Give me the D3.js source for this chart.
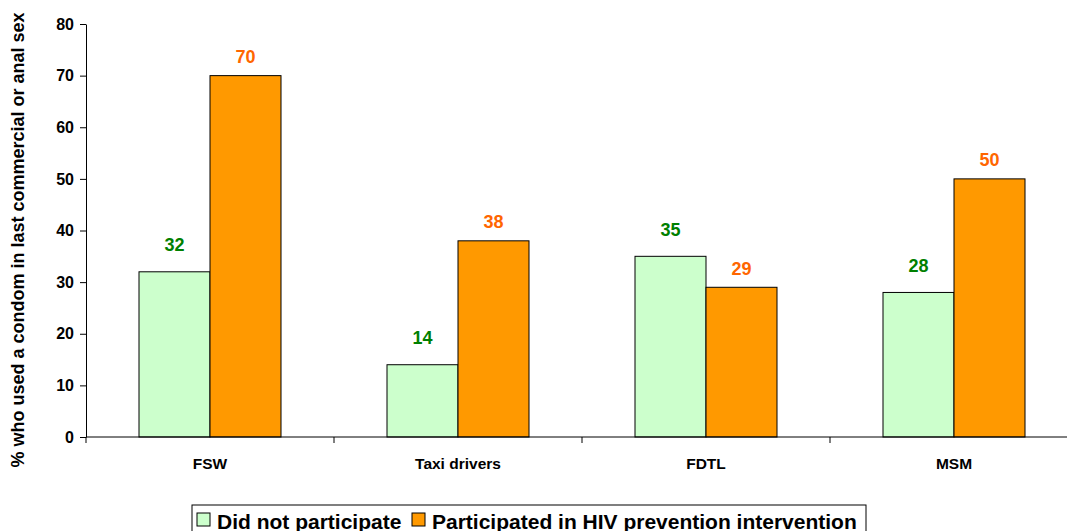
<!DOCTYPE html>
<html>
<head>
<meta charset="utf-8">
<script src="https://cdn.jsdelivr.net/npm/d3@7"></script>
<style>
  body { margin: 0; background: #fff; }
  svg text { font-family: "Liberation Sans", Arial, sans-serif; font-weight: bold; }
  .axis path, .axis line { stroke: #000; }
</style>
</head>
<body>
<div id="chart"></div>
<script>
// datos
var categories = ["FSW", "Taxi drivers", "FDTL", "MSM"];
var notParticipated = [32, 14, 35, 28];
var participated = [70, 38, 29, 50];
var seriesNames = ["Did not participate", "Participated in HIV prevention intervention"];
var yTicks = [0, 10, 20, 30, 40, 50, 60, 70, 80];

var W = 1067, H = 531;
var margin = {top: 24, right: -11, bottom: 94, left: 86};
var width = W - margin.left - margin.right,
    height = H - margin.top - margin.bottom;

var fills = ["#CCFFCC", "#FF9900"];
var labelColors = ["#008000", "#FF6600"];
var labelOffsets = [27, 19];

var svg = d3.select("#chart").append("svg")
    .attr("width", W)
    .attr("height", H);

var g = svg.append("g")
    .attr("transform", "translate(" + margin.left + "," + margin.top + ")");

var x0 = d3.scaleBand().domain(categories).range([0, width]).paddingInner(0).paddingOuter(0);
var x1 = d3.scaleBand().domain([0, 1]).range([53, x0.bandwidth() - 53]);
var y = d3.scaleLinear().domain([0, 80]).range([height, 0]);

var rows = categories.map(function(c, i) {
  return {cat: c, vals: [notParticipated[i], participated[i]]};
});

// barras
var groups = g.selectAll(".grp")
    .data(rows)
  .enter().append("g")
    .attr("class", "grp")
    .attr("transform", function(d) { return "translate(" + x0(d.cat) + ",0)"; });

groups.selectAll("rect")
    .data(function(d) { return d.vals.map(function(v, s) { return {v: v, s: s}; }); })
  .enter().append("rect")
    .attr("x", function(d) { return x1(d.s); })
    .attr("y", function(d) { return y(d.v); })
    .attr("width", x1.bandwidth())
    .attr("height", function(d) { return height - y(d.v); })
    .attr("fill", function(d) { return fills[d.s]; })
    .attr("stroke", "#000")
    .attr("stroke-width", 1);

groups.selectAll(".lbl")
    .data(function(d) { return d.vals.map(function(v, s) { return {v: v, s: s}; }); })
  .enter().append("text")
    .attr("class", "lbl")
    .attr("x", function(d) { return x1(d.s) + x1.bandwidth() / 2; })
    .attr("y", function(d) { return y(d.v) - labelOffsets[d.s]; })
    .attr("dy", "0.35em")
    .attr("text-anchor", "middle")
    .style("font-size", "18px")
    .style("fill", function(d) { return labelColors[d.s]; })
    .text(function(d) { return d.v; });

// ejes
var yAxis = d3.axisLeft(y).tickValues(yTicks).tickSizeInner(6).tickSizeOuter(0).tickPadding(6);
g.append("g")
    .attr("class", "axis y")
    .call(yAxis)
    .selectAll("text")
    .style("font-size", "16px")
    .style("fill", "#000");

var xa = g.append("g")
    .attr("class", "axis x")
    .attr("transform", "translate(0," + height + ")");
xa.append("line")
    .attr("x1", 0).attr("x2", width)
    .attr("stroke", "#000");
xa.selectAll(".tk")
    .data(categories)
  .enter().append("line")
    .attr("class", "tk")
    .attr("x1", function(d) { return x0(d); })
    .attr("x2", function(d) { return x0(d); })
    .attr("y1", 0).attr("y2", 6)
    .attr("stroke", "#000");
xa.selectAll(".cl")
    .data(categories)
  .enter().append("text")
    .attr("class", "cl")
    .attr("x", function(d) { return x0(d) + x0.bandwidth() / 2; })
    .attr("y", 32)
    .attr("text-anchor", "middle")
    .style("font-size", "15.5px")
    .text(function(d) { return d; });

// titulo eje y
svg.append("text")
    .attr("transform", "translate(24,240) rotate(-90)")
    .attr("text-anchor", "middle")
    .style("font-size", "18px")
    .text("% who used a condom in last commercial or anal sex");

// leyenda
var leg = svg.append("g").attr("transform", "translate(192,505)");
leg.append("rect")
    .attr("x", 0).attr("y", 0)
    .attr("width", 674).attr("height", 40)
    .attr("fill", "#fff")
    .attr("stroke", "#000");
var legX = [5, 220];
seriesNames.forEach(function(n, i) {
  leg.append("rect")
      .attr("x", legX[i]).attr("y", 8)
      .attr("width", 13).attr("height", 13)
      .attr("fill", fills[i])
      .attr("stroke", "#000");
  leg.append("text")
      .attr("x", legX[i] + 20).attr("y", 23.5)
      .style("font-size", "21px")
      .text(n);
});
</script>
</body>
</html>
